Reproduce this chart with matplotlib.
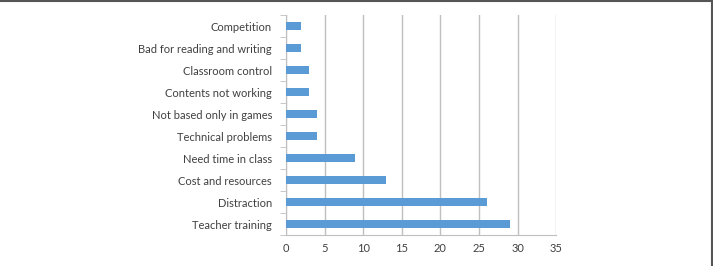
import matplotlib.pyplot as plt
import numpy as np

# Reasons / barriers, bottom to top as drawn
categories = ['Teacher training', 'Distraction', 'Cost and resources',
              'Need time in class', 'Technical problems',
              'Not based only in games', 'Contents not working',
              'Classroom control', 'Bad for reading and writing',
              'Competition']
counts = [29, 26, 13, 9, 4, 4, 3, 3, 2, 2]
xticks = [0, 5, 10, 15, 20, 25, 30, 35]

plt.rcParams['font.family'] = ['Lato', 'DejaVu Sans']

fig = plt.figure(figsize=(7.13, 2.66), dpi=100)
ax = fig.add_axes([0.401, 0.1165, 0.379, 0.827])

y = np.arange(len(categories))
ax.barh(y, counts, height=0.4, color='#5B9BD5', zorder=3)

ax.set_xlim(0, 35)
ax.set_ylim(-0.5, len(categories) - 0.5)
ax.set_xticks(xticks)
ax.set_xticklabels([str(t) for t in xticks], fontsize=8, color='#404040')
ax.set_yticks(y)
ax.set_yticklabels(categories, fontsize=8, color='#404040')
ax.tick_params(axis='y', length=0, pad=10)
ax.tick_params(axis='x', length=0, pad=6)

# category separators on the left axis
ax.set_yticks(np.arange(-0.5, len(categories)), minor=True)
ax.tick_params(axis='y', which='minor', length=4, color='#BFBFBF')

ax.grid(axis='x', color='#BFBFBF', linewidth=1, zorder=0)
for s in ['top', 'right']:
    ax.spines[s].set_visible(False)
ax.spines['left'].set_color('#BFBFBF')
ax.spines['bottom'].set_color('#BFBFBF')

# thin frame lines at the top and right edge of the picture
fig.add_artist(plt.Line2D([0, 1], [0.998, 0.998], color='#555555', linewidth=1.5, transform=fig.transFigure))
fig.add_artist(plt.Line2D([0.998, 0.998], [0, 1], color='#555555', linewidth=1.5, transform=fig.transFigure))

fig.savefig('out.png', dpi=100)
